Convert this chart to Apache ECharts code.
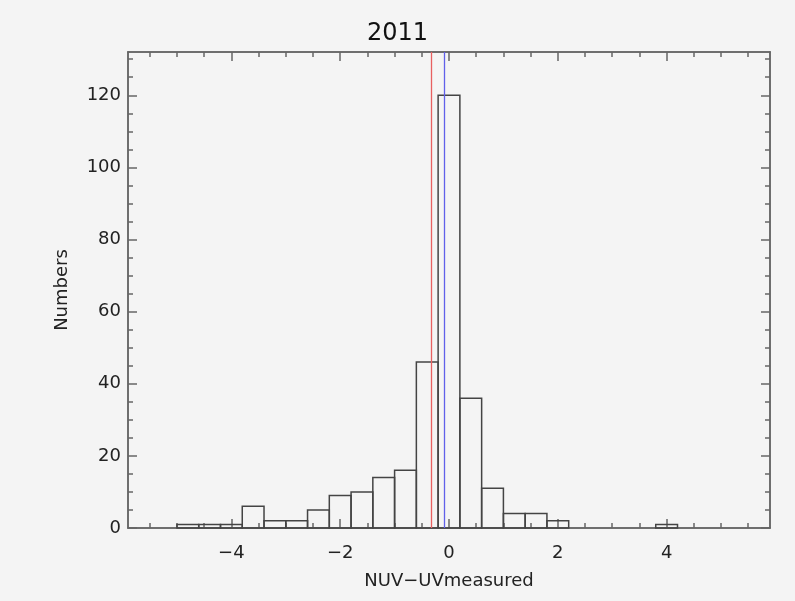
<!DOCTYPE html>
<html>
<head>
<meta charset="utf-8">
<script src="https://cdn.jsdelivr.net/npm/echarts@6/dist/echarts.min.js"></script>
<style>
html,body{margin:0;padding:0;background:#f4f4f4;}
#chart{width:795px;height:601px;}
</style>
</head>
<body>
<div id="chart"></div>
<script>
// histogram bins (centre of each bin) and counts
var binCenters = [-4.8, -4.4, -4.0, -3.6, -3.2, -2.8, -2.4, -2.0, -1.6, -1.2, -0.8, -0.4, 0, 0.4, 0.8, 1.2, 1.6, 2.0, 4.0];
var counts = [1, 1, 1, 6, 2, 2, 5, 9, 10, 14, 16, 46, 120, 36, 11, 4, 4, 2, 1];
var binWidth = 0.4;
// vertical reference lines
var redLine = -0.33;
var blueLine = -0.08;
// tick values
var xMajor = [-4, -2, 0, 2, 4];
var xMinor = [-5.5, -5, -4.5, -3.5, -3, -2.5, -1.5, -1, -0.5, 0.5, 1, 1.5, 2.5, 3, 3.5, 4.5, 5, 5.5];
var yMajor = [0, 20, 40, 60, 80, 100, 120];
var yMinor = [5, 10, 15, 25, 30, 35, 45, 50, 55, 65, 70, 75, 85, 90, 95, 105, 110, 115, 125, 130];

var axisColor = '#666';
var font = 'DejaVu Sans, Liberation Sans, sans-serif';

var _$ = function(_id){return document.getElementById(_id)};

function xAxisDef(pos, ticks, len, labels){
	return {
		type: 'value', position: pos, min: -5.9, max: 5.9,
		axisLine: {show: true, onZero: false, lineStyle: {color: axisColor, width: 1.5}},
		axisTick: {show: true, inside: true, length: len, customValues: ticks, lineStyle: {color: axisColor, width: 1.5}},
		axisLabel: labels ? {show: true, customValues: labels, color: '#222', fontSize: 18, fontFamily: font, margin: 16,
			formatter: function(v){return String(v).replace('-', '\u2212')}} : {show: false},
		splitLine: {show: false}
	};
}
function yAxisDef(pos, ticks, len, labels){
	return {
		type: 'value', position: pos, min: 0, max: 132,
		axisLine: {show: true, onZero: false, lineStyle: {color: axisColor, width: 1.5}},
		axisTick: {show: true, inside: true, length: len, customValues: ticks, lineStyle: {color: axisColor, width: 1.5}},
		axisLabel: labels ? {show: true, customValues: labels, color: '#222', fontSize: 18, fontFamily: font, margin: 7} : {show: false},
		splitLine: {show: false}
	};
}

function drawChart(){
	var myChart = echarts.init(_$('chart'));
	var data = [];
	for (var i = 0; i < binCenters.length; i++) data.push([binCenters[i], counts[i]]);

	var xa = [
		xAxisDef('bottom', xMajor, 9, xMajor),
		xAxisDef('bottom', xMinor, 5, null),
		xAxisDef('top', xMajor, 9, null),
		xAxisDef('top', xMinor, 5, null)
	];
	xa[0].name = 'NUV\u2212UVmeasured';
	xa[0].nameLocation = 'middle';
	xa[0].nameGap = 44;
	xa[0].nameTextStyle = {color: '#222', fontSize: 18, fontFamily: font};
	var ya = [
		yAxisDef('left', yMajor, 9, yMajor),
		yAxisDef('left', yMinor, 5, null),
		yAxisDef('right', yMajor, 9, null),
		yAxisDef('right', yMinor, 5, null)
	];
	ya[0].name = 'Numbers';
	ya[0].nameLocation = 'middle';
	ya[0].nameGap = 57;
	ya[0].nameTextStyle = {color: '#222', fontSize: 18, fontFamily: font};

	var option = {
		backgroundColor: '#f4f4f4',
		animation: false,
		title: {
			show: true, text: '2011', left: 'center', top: 17,
			textStyle: {color: '#111', fontSize: 24, fontWeight: 'normal', fontFamily: font}
		},
		grid: {left: 128, right: 25, top: 52, bottom: 73},
		xAxis: xa,
		yAxis: ya,
		series: [
			{
				name: 'hist',
				type: 'custom',
				xAxisIndex: 0, yAxisIndex: 0,
				data: data,
				renderItem: function(params, api){
					var c = api.value(0), n = api.value(1);
					var p0 = api.coord([c - binWidth / 2, n]);
					var p1 = api.coord([c + binWidth / 2, 0]);
					return {
						type: 'rect',
						shape: {x: p0[0], y: p0[1], width: p1[0] - p0[0], height: p1[1] - p0[1]},
						style: {fill: null, stroke: '#444', lineWidth: 1.5}
					};
				},
				markLine: {
					silent: true, symbol: 'none', label: {show: false},
					data: [
						{xAxis: redLine, lineStyle: {color: '#e86060', width: 1.3, type: 'solid'}},
						{xAxis: blueLine, lineStyle: {color: '#6060ea', width: 1.3, type: 'solid'}}
					]
				}
			}
		]
	};
	myChart.setOption(option);
}
window.addEventListener('load', drawChart);
</script>
</body>
</html>
